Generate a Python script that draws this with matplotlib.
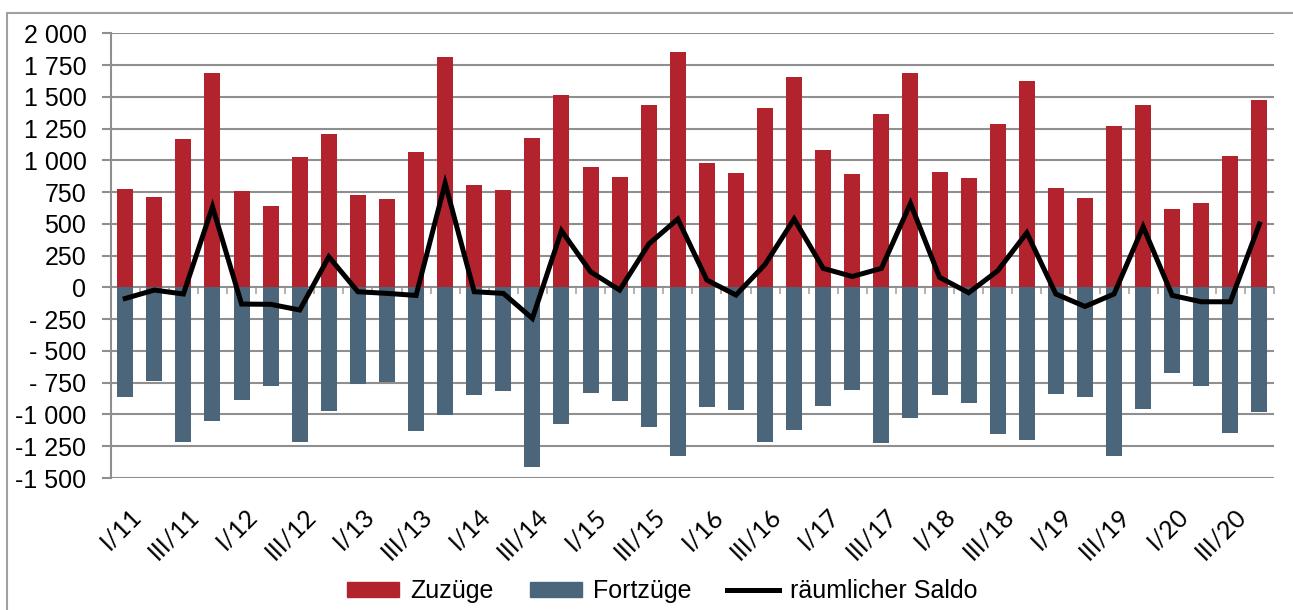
import numpy as np
import matplotlib
matplotlib.use("Agg")
import matplotlib.pyplot as plt
from matplotlib.patches import Patch, Rectangle
from matplotlib.lines import Line2D
from matplotlib.transforms import ScaledTranslation

# quarters I/11 .. IV/20
quarters = [q + "/" + str(y) for y in range(11, 21) for q in ["I", "II", "III", "IV"]]

zuzuege = [772, 714, 1165, 1685, 759, 638, 1029, 1207, 727, 696,
           1063, 1811, 806, 766, 1173, 1514, 945, 866, 1438, 1856,
           982, 903, 1409, 1656, 1084, 890, 1365, 1688, 911, 858,
           1283, 1627, 785, 703, 1270, 1433, 614, 664, 1031, 1475]

fortzuege = [-866, -738, -1218, -1050, -890, -777, -1213, -971, -761, -748,
             -1131, -1005, -845, -819, -1417, -1073, -829, -892, -1100, -1323,
             -940, -966, -1220, -1123, -934, -808, -1228, -1026, -848, -908,
             -1157, -1199, -840, -864, -1323, -958, -677, -774, -1142, -982]

saldo = [-87, -21, -52, 635, -131, -133, -178, 241, -34, -47,
         -63, 819, -34, -47, -244, 446, 123, -21, 341, 538,
         58, -60, 181, 538, 150, 86, 150, 661, 79, -42,
         131, 430, -52, -150, -52, 478, -63, -113, -113, 499]

yticks = [-1500, -1250, -1000, -750, -500, -250, 0, 250, 500, 750, 1000, 1250, 1500, 1750, 2000]
ytick_labels = ["-1 500", "-1 250", "-1 000", "- 750", "- 500", "- 250", "0",
                "250", "500", "750", "1 000", "1 250", "1 500", "1 750", "2 000"]

red = "#b3232e"
blue = "#4b667b"
grid = "#8f8f8f"

fig = plt.figure(figsize=(12.93, 6.10), dpi=100)
ax = fig.add_axes([110.7 / 1293, 1 - 478 / 610, (1274 - 110.7) / 1293, (478 - 33.3) / 610])

x = np.arange(len(quarters))
ax.bar(x, zuzuege, width=0.55, color=red, zorder=3)
ax.bar(x, fortzuege, width=0.55, color=blue, zorder=3)
ax.plot(x, saldo, color="black", lw=3.6, zorder=4, solid_joinstyle="miter")

ax.set_xlim(-0.5, len(quarters) - 0.5)
ax.set_ylim(-1500, 2000)
ax.set_yticks(yticks)
ax.set_yticklabels(ytick_labels, fontsize=18, family=["Liberation Sans", "DejaVu Sans"])
ax.yaxis.grid(True, color=grid, lw=1.5)
ax.set_axisbelow(True)
ax.tick_params(axis="y", direction="out", length=6.5, width=1.5, color=grid, pad=11)

ax.set_xticks(x[::2])
ax.set_xticklabels(quarters[::2], rotation=45, ha="right", va="top",
                   rotation_mode="anchor", fontsize=18, family=["Lato", "DejaVu Sans"])
ax.tick_params(axis="x", length=0, pad=19)
shift = ScaledTranslation(4 / 100, 0, fig.dpi_scale_trans)
for lbl in ax.get_xticklabels():
    lbl.set_transform(lbl.get_transform() + shift)

for s in ["top", "right", "bottom"]:
    ax.spines[s].set_visible(False)
ax.spines["left"].set_color(grid)
ax.spines["left"].set_linewidth(1.5)

# category boundary ticks on the zero line
zero = (0 - ax.get_ylim()[0]) / (ax.get_ylim()[1] - ax.get_ylim()[0])
sec = ax.secondary_xaxis(zero)
sec.set_xticks(np.arange(-0.5, len(quarters), 1))
sec.set_xticklabels([])
sec.tick_params(direction="out", length=5, width=1.2, color="#a6a6a6")
sec.spines["bottom"].set_visible(False)

handles = [Patch(color=red), Patch(color=blue), Line2D([], [], color="black", lw=3.6)]
fig.legend(handles, ["Zuzüge", "Fortzüge", "räumlicher Saldo"], loc="center",
           bbox_to_anchor=(0.5124, 0.031), ncol=3, frameon=False,
           prop={"family": ["Liberation Sans", "DejaVu Sans"], "size": 18},
           handlelength=2.08, handleheight=0.56, handletextpad=0.44, columnspacing=1.44)

# outer frame
fig.add_artist(Rectangle((7 / 1293, -0.1), 1.2, 1.1 - 13 / 610, transform=fig.transFigure,
                         fill=False, edgecolor="#a0a0a0", lw=1.5))

fig.savefig("out.png", dpi=100)
